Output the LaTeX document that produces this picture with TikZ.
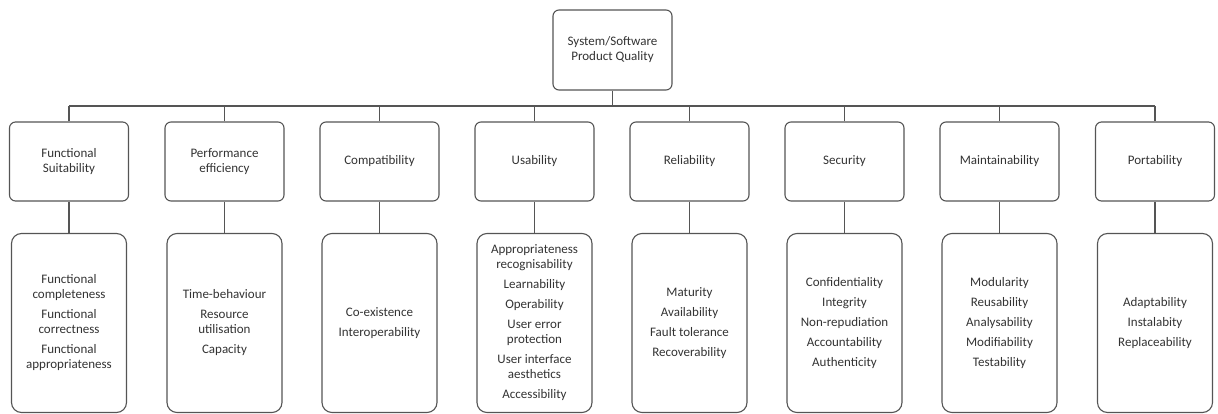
\documentclass[tikz,border=0pt]{standalone}
\usepackage{fontspec}
\setmainfont{Carlito}
\definecolor{linecol}{HTML}{555555}
\definecolor{txtcol}{HTML}{333333}
\begin{document}
\begin{tikzpicture}[x=1pt,y=-1pt,
  box/.style={draw=linecol, line width=1.1pt, fill=white, align=center, text=txtcol,
    font=\fontsize{13}{15}\selectfont, inner sep=2pt},
  catbox/.style={box, rounded corners=6pt, minimum width=119pt, minimum height=79pt},
  detbox/.style={box, rounded corners=10pt, minimum width=115pt, minimum height=179pt},
  conn/.style={draw=linecol, line width=1.1pt}]
\useasboundingbox (0,0) rectangle (1218,414);
\node[catbox, minimum height=80pt] (top) at (612.5,50) {System/Software\\Product Quality};
\coordinate (spL) at (69,106);
\coordinate (spR) at (1155,106);
% categories
\node[catbox] (c1) at (69,161.5) {Functional\\Suitability};
\node[catbox] (c2) at (224.5,161.5) {Performance\\efficiency};
\node[catbox] (c3) at (379.5,161.5) {Compatibility};
\node[catbox] (c4) at (534.5,161.5) {Usability};
\node[catbox] (c5) at (689.5,161.5) {Reliability};
\node[catbox] (c6) at (844.5,161.5) {Security};
\node[catbox] (c7) at (999.5,161.5) {Maintainability};
\node[catbox] (c8) at (1155,161.5) {Portability};
% details
\node[detbox] (d1) at (69,323) {Functional\\completeness\\[5pt]Functional\\correctness\\[5pt]Functional\\appropriateness};
\node[detbox] (d2) at (224.5,323) {Time-behaviour\\[5pt]Resource\\utilisation\\[5pt]Capacity};
\node[detbox] (d3) at (379.5,323) {Co-existence\\[5pt]Interoperability};
\node[detbox] (d4) at (534.5,323) {Appropriateness\\recognisability\\[5pt]Learnability\\[5pt]Operability\\[5pt]User error\\protection\\[5pt]User interface\\aesthetics\\[5pt]Accessibility};
\node[detbox] (d5) at (689.5,323) {Maturity\\[5pt]Availability\\[5pt]Fault tolerance\\[5pt]Recoverability};
\node[detbox] (d6) at (844.5,323) {Confidentiality\\[5pt]Integrity\\[5pt]Non-repudiation\\[5pt]Accountability\\[5pt]Authenticity};
\node[detbox] (d7) at (999.5,323) {Modularity\\[5pt]Reusability\\[5pt]Analysability\\[5pt]Modifiability\\[5pt]Testability};
\node[detbox] (d8) at (1155,323) {Adaptability\\[5pt]Instalabity\\[5pt]Replaceability};
% connectors
\draw[conn] (spL) -- (spR);
\draw[conn] (top.south) -- (top.south |- spL);
\foreach \i in {1,...,8}{
  \draw[conn] (c\i.north) -- (c\i.north |- spL);
  \draw[conn] (c\i.south) -- (d\i.north);
}
\end{tikzpicture}
\end{document}
